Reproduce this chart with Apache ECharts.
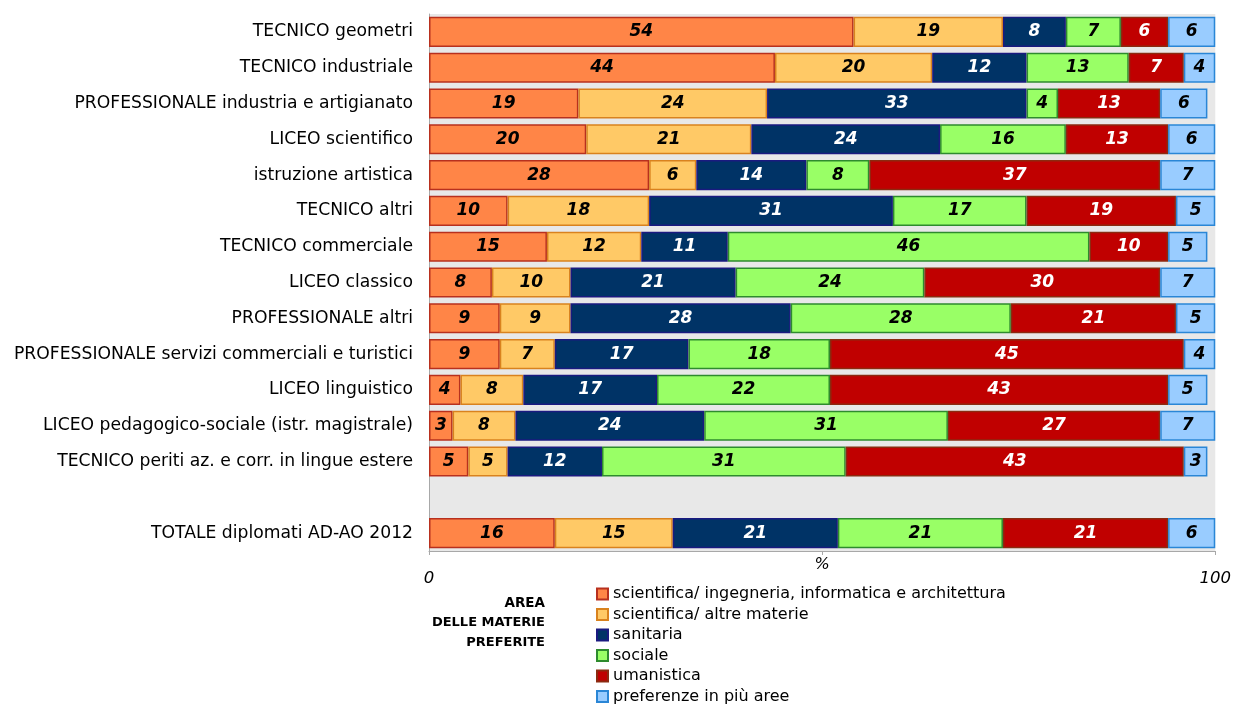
<!DOCTYPE html>
<html>
<head>
<meta charset="utf-8">
<script src="https://cdn.jsdelivr.net/npm/echarts@6/dist/echarts.min.js"></script>
<style>
  html, body { margin: 0; padding: 0; background: #fff; }
  #main { width: 1234px; height: 705px; }
</style>
</head>
<body>
<div id="main"></div>
<script>
// categorie dall'alto in basso ('' = riga vuota prima del totale)
var categories = [
  'TECNICO geometri',
  'TECNICO industriale',
  'PROFESSIONALE industria e artigianato',
  'LICEO scientifico',
  'istruzione artistica',
  'TECNICO altri',
  'TECNICO commerciale',
  'LICEO classico',
  'PROFESSIONALE altri',
  'PROFESSIONALE servizi commerciali e turistici',
  'LICEO linguistico',
  'LICEO pedagogico-sociale (istr. magistrale)',
  'TECNICO periti az. e corr. in lingue estere',
  '',
  'TOTALE diplomati AD-AO 2012'
]

var sciIngegneria = [54, 44, 19, 20, 28, 10, 15, 8, 9, 9, 4, 3, 5, '-', 16]
var sciAltre      = [19, 20, 24, 21, 6, 18, 12, 10, 9, 7, 8, 8, 5, '-', 15]
var sanitaria     = [8, 12, 33, 24, 14, 31, 11, 21, 28, 17, 17, 24, 12, '-', 21]
var sociale       = [7, 13, 4, 16, 8, 17, 46, 24, 28, 18, 22, 31, 31, '-', 21]
var umanistica    = [6, 7, 13, 13, 37, 19, 10, 30, 21, 45, 43, 27, 43, '-', 21]
var piuAree       = [6, 4, 6, 6, 7, 5, 5, 7, 5, 4, 5, 7, 3, '-', 6]

var xTickLabels = { 0: '0', 100: '100' }

var seriesDefs = [
  { name: 'scientifica/ ingegneria, informatica e architettura', data: sciIngegneria, color: '#FF8547', border: '#B8301E', text: '#000' },
  { name: 'scientifica/ altre materie', data: sciAltre, color: '#FFC966', border: '#D9821E', text: '#000' },
  { name: 'sanitaria', data: sanitaria, color: '#003366', border: '#1A1A80', text: '#fff' },
  { name: 'sociale', data: sociale, color: '#99FF66', border: '#2E8B2E', text: '#000' },
  { name: 'umanistica', data: umanistica, color: '#C00000', border: '#8B2A10', text: '#fff' },
  { name: 'preferenze in più aree', data: piuAree, color: '#99CCFF', border: '#2A86D6', text: '#000' }
]

var chart = echarts.init(document.getElementById('main'))

var series = seriesDefs.map(function(s) {
  return {
    name: s.name,
    type: 'bar',
    stack: 'tot',
    data: s.data,
    barCategoryGap: '16%',
    itemStyle: { color: s.color, borderColor: s.border, borderWidth: 1.5 },
    label: {
      show: true,
      position: 'inside',
      color: s.text,
      fontFamily: 'DejaVu Sans',
      fontWeight: 'bold',
      fontStyle: 'italic',
      fontSize: 17
    },
    emphasis: { disabled: true }
  }
})

var option = {
  animation: false,
  backgroundColor: '#ffffff',
  textStyle: { fontFamily: 'DejaVu Sans' },
  grid: {
    left: 429,
    right: 18,
    top: 14,
    bottom: 154,
    show: true,
    backgroundColor: '#E8E8E8',
    borderWidth: 0
  },
  legend: {
    orient: 'vertical',
    left: 596,
    top: 586,
    height: 119,
    padding: 0,
    itemWidth: 11,
    itemHeight: 11,
    itemGap: 4.5,
    selectedMode: false,
    icon: 'rect',
    textStyle: { fontFamily: 'DejaVu Sans', fontSize: 16, color: '#000' },
    data: seriesDefs.map(function(s) { return s.name })
  },
  xAxis: {
    type: 'value',
    min: 0,
    max: 100,
    interval: 50,
    name: '%',
    nameLocation: 'middle',
    nameGap: 6,
    nameMoveOverlap: false,
    nameTextStyle: { fontFamily: 'DejaVu Sans', fontStyle: 'italic', fontSize: 16, color: '#000' },
    splitLine: { show: false },
    axisLine: { show: true, lineStyle: { color: '#A8A8A8', width: 1 } },
    axisTick: { show: true, length: 4, lineStyle: { color: '#A8A8A8' } },
    axisLabel: {
      margin: 19,
      fontFamily: 'DejaVu Sans',
      fontStyle: 'italic',
      fontSize: 16.5,
      color: '#000',
      formatter: function(v) { return xTickLabels[v] || '' }
    }
  },
  yAxis: {
    type: 'category',
    inverse: true,
    data: categories,
    axisLine: { show: true, lineStyle: { color: '#A8A8A8', width: 1 } },
    axisTick: { show: false },
    axisLabel: { margin: 16, fontFamily: 'DejaVu Sans', fontSize: 17.2, color: '#000' }
  },
  graphic: [
    { type: 'text', x: 545, y: 603, style: { text: 'AREA', align: 'right', verticalAlign: 'middle', fontFamily: 'DejaVu Sans', fontWeight: 'bold', fontSize: 13.5, fill: '#000' } },
    { type: 'text', x: 545, y: 623, style: { text: 'DELLE MATERIE', align: 'right', verticalAlign: 'middle', fontFamily: 'DejaVu Sans', fontWeight: 'bold', fontSize: 13, fill: '#000' } },
    { type: 'text', x: 545, y: 643, style: { text: 'PREFERITE', align: 'right', verticalAlign: 'middle', fontFamily: 'DejaVu Sans', fontWeight: 'bold', fontSize: 13, fill: '#000' } }
  ],
  series: series
}

chart.setOption(option)
</script>
</body>
</html>
